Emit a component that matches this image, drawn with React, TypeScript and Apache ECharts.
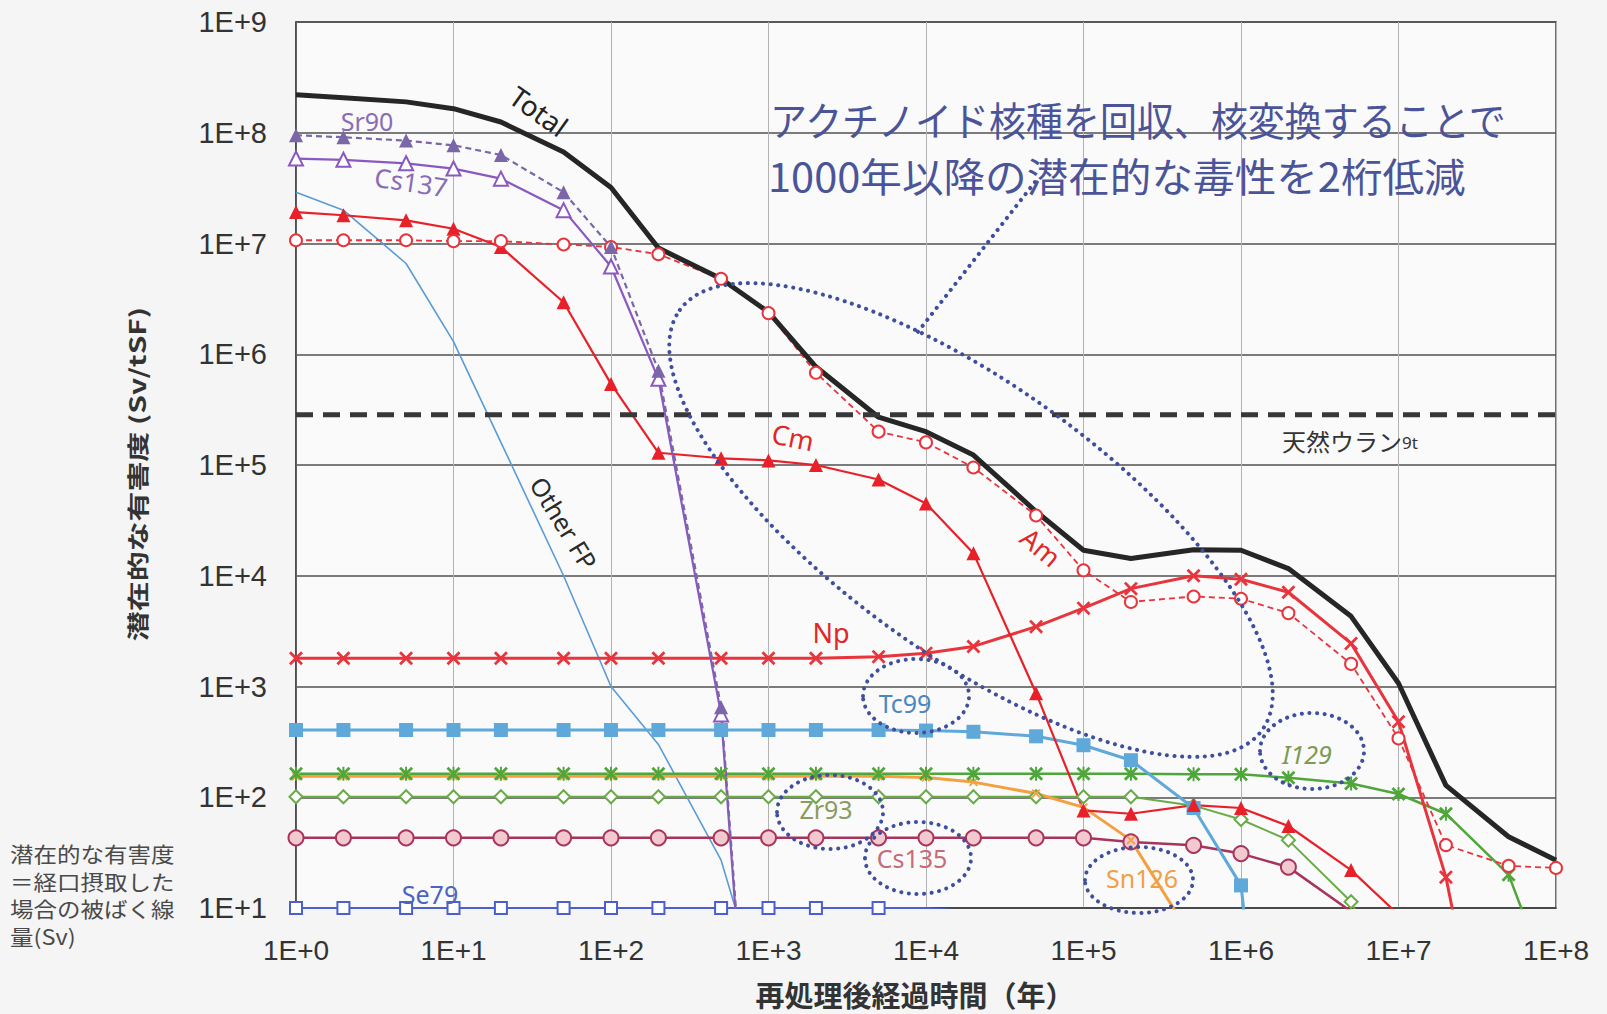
import { useEffect, useRef } from "react";
import * as echarts from "echarts";

// Years after reprocessing at which the toxicity of each nuclide is tabulated
const TIMES = [1, 2, 5, 10, 20, 50, 100, 200, 500, 1e3, 2e3, 5e3, 1e4, 2e4, 5e4, 1e5, 2e5, 5e5, 1e6, 2e6, 5e6, 1e7, 2e7, 5e7, 1e8];

const X_TICK_LABELS = ["1E+0", "1E+1", "1E+2", "1E+3", "1E+4", "1E+5", "1E+6", "1E+7", "1E+8"];
const Y_TICK_LABELS = ["1E+1", "1E+2", "1E+3", "1E+4", "1E+5", "1E+6", "1E+7", "1E+8", "1E+9"];

// Potential toxicity (Sv per tonne of spent fuel), one value per entry of TIMES
const TOTAL = [2.2e8, 2.07e8, 1.9e8, 1.65e8, 1.25e8, 6.7e7, 3.2e7, 9.1e6, 4.8e6, 2.4e6, 7.7e5, 2.7e5, 2.0e5, 1.23e5, 3.8e4, 1.7e4, 1.43e4, 1.72e4, 1.7e4, 1.16e4, 4.3e3, 1.07e3, 128, 44, 27];
const SR90 = [9.5e7, 9.1e7, 8.5e7, 7.7e7, 6.3e7, 2.9e7, 9.3e6, 7.1e5, 650, 1e-3];
const CS137 = [5.85e7, 5.7e7, 5.3e7, 4.75e7, 3.85e7, 2.0e7, 6.2e6, 6.0e5, 560, 8e-4];
const OTHER_FP = [2.9e7, 2.0e7, 6.6e6, 1.3e6, 1.6e5, 1.0e4, 1.0e3, 300, 27, 1.0];
const CM = [1.92e7, 1.8e7, 1.62e7, 1.36e7, 9.3e6, 2.95e6, 5.4e5, 1.29e5, 1.15e5, 1.1e5, 1.0e5, 7.4e4, 4.5e4, 1.6e4, 870, 76, 71, 85, 80, 55, 22, 8.7];
const AM = [1.07e7, 1.07e7, 1.07e7, 1.05e7, 1.05e7, 9.8e6, 9.3e6, 8.0e6, 4.8e6, 2.35e6, 6.8e5, 2.0e5, 1.6e5, 9.5e4, 3.5e4, 1.12e4, 5.8e3, 6.5e3, 6.2e3, 4.6e3, 1.6e3, 340, 37, 24, 23];
const NP = [1800, 1800, 1800, 1800, 1800, 1800, 1800, 1800, 1800, 1800, 1800, 1860, 2000, 2300, 3470, 5100, 7650, 10000, 9300, 7100, 2450, 480, 19, 0.03];
const TC99 = [405, 405, 405, 405, 405, 405, 405, 405, 405, 405, 405, 405, 400, 390, 355, 295, 216, 80, 16, 0.003];
const I129 = [163, 163, 163, 163, 163, 163, 163, 163, 163, 163, 163, 163, 163, 163, 163, 163, 163, 161, 161, 150, 133, 107, 71, 20, 1.5];
const SN126 = [155, 155, 155, 155, 155, 155, 155, 155, 155, 155, 155, 155, 151, 137, 108, 81, 41, 5.1, 0.02];
const ZR93 = [101, 101, 101, 101, 101, 101, 101, 101, 101, 101, 101, 101, 101, 101, 101, 101, 101, 84, 63, 41, 11.4, 1.5];
const CS135 = [43, 43, 43, 43, 43, 43, 43, 43, 43, 43, 43, 43, 43, 43, 43, 43, 39.5, 36.8, 31, 23.4, 9.3, 3];
const SE79 = [10, 10, 10, 10, 10, 10, 10, 10, 10, 10, 10, 10, 10, 9.3];
const SE79_MARKED = 12; // markers only up to 5000 years
// Toxicity of the natural uranium needed for one tonne of fuel (9 t)
const NATURAL_URANIUM = 2.85e5;

const NOTE_LINES = ["潜在的な有害度", "＝経口摂取した", "場合の被ばく線", "量(Sv)"];

const CROSS = "path://M0,1.4L1.4,0L5,3.6L8.6,0L10,1.4L6.4,5L10,8.6L8.6,10L5,6.4L1.4,10L0,8.6L3.6,5Z";
const STAR = "path://M0,1.4L1.4,0L5,3.6L8.6,0L10,1.4L6.4,5L10,8.6L8.6,10L5,6.4L1.4,10L0,8.6L3.6,5Z M4.3,0L5.7,0L5.7,10L4.3,10Z";

const DOT = "#3f4f9e";
const JP = "'Noto Sans CJK JP', 'Noto Sans', sans-serif";
const LATIN = "'Noto Sans', 'Open Sans', sans-serif";

const pts = (vals: number[]) => vals.map((v, i) => [TIMES[i], v]);

function lineSeries(name: string, data: any[], extra: any) {
  return {
    type: "line",
    name,
    data,
    silent: true,
    emphasis: { disabled: true },
    clip: true,
    ...extra,
  };
}

function dotted(shape: any) {
  return {
    silent: true,
    z: 100,
    style: { fill: "none", stroke: DOT, lineWidth: 4, lineDash: [0.1, 7.5], lineCap: "round" },
    ...shape,
  };
}

function label(text: string, x: number, y: number, color: string, size: number, rotation = 0, extraStyle: any = {}) {
  return {
    type: "text",
    x,
    y,
    rotation,
    z: 101,
    silent: true,
    style: { text, fill: color, fontSize: size, fontFamily: LATIN, align: "center", verticalAlign: "middle", ...extraStyle },
  };
}

export default function App() {
  const ref = useRef<HTMLDivElement>(null);

  useEffect(() => {
    if (!ref.current) return;
    const chart = echarts.init(ref.current, undefined, { renderer: "svg" });

    const series = [
      lineSeries("Other FP", pts(OTHER_FP), {
        symbol: "none",
        lineStyle: { color: "#5b9bd5", width: 1.6 },
      }),
      lineSeries(
        "Se79",
        SE79.map((v, i) => (i < SE79_MARKED ? [TIMES[i], v] : { value: [TIMES[i], v], symbol: "none" })),
        {
          symbol: "emptyRect",
          symbolSize: 12,
          itemStyle: { color: "#4a5fd0", borderColor: "#4a5fd0", borderWidth: 1.8 },
          lineStyle: { color: "#4a5fd0", width: 2 },
        }
      ),
      lineSeries("Cs135", pts(CS135), {
        symbol: "circle",
        symbolSize: 15,
        itemStyle: { color: "#f3c9d0", borderColor: "#a8345c", borderWidth: 2 },
        lineStyle: { color: "#a8345c", width: 2.5 },
      }),
      lineSeries("Zr93", pts(ZR93), {
        symbol: "emptyDiamond",
        symbolSize: 13,
        itemStyle: { color: "#6aab48", borderColor: "#6aab48", borderWidth: 1.8 },
        lineStyle: { color: "#6aab48", width: 2 },
      }),
      lineSeries("Sn126", pts(SN126), {
        symbol: CROSS,
        symbolSize: 9,
        itemStyle: { color: "#f5a040", borderWidth: 0 },
        lineStyle: { color: "#f5a040", width: 3 },
      }),
      lineSeries("I129", pts(I129), {
        symbol: STAR,
        symbolSize: 14,
        itemStyle: { color: "#4fa63a", borderWidth: 0 },
        lineStyle: { color: "#4fa63a", width: 2.5 },
      }),
      lineSeries("Tc99", pts(TC99), {
        symbol: "rect",
        symbolSize: 14,
        itemStyle: { color: "#5ea8da", borderWidth: 0 },
        lineStyle: { color: "#5ea8da", width: 3 },
      }),
      lineSeries("Np", pts(NP), {
        symbol: CROSS,
        symbolSize: 14,
        itemStyle: { color: "#e8343c", borderWidth: 0 },
        lineStyle: { color: "#e8343c", width: 3 },
      }),
      lineSeries("Cm", pts(CM), {
        symbol: "triangle",
        symbolSize: 14,
        itemStyle: { color: "#e8202a", borderWidth: 0 },
        lineStyle: { color: "#e8202a", width: 2.2 },
      }),
      lineSeries("Am", pts(AM), {
        symbol: "emptyCircle",
        symbolSize: 12,
        itemStyle: { color: "#e8343c", borderColor: "#e8343c", borderWidth: 1.8 },
        lineStyle: { color: "#e8343c", width: 1.8, type: [6, 4] },
      }),
      lineSeries("Cs137", pts(CS137), {
        symbol: "emptyTriangle",
        symbolSize: 14,
        itemStyle: { color: "#8a58c0", borderColor: "#8a58c0", borderWidth: 1.8 },
        lineStyle: { color: "#8a58c0", width: 2.2 },
      }),
      lineSeries("Sr90", pts(SR90), {
        symbol: "triangle",
        symbolSize: 14,
        itemStyle: { color: "#7a66a8", borderWidth: 0 },
        lineStyle: { color: "#7a66a8", width: 2.2, type: [6, 4] },
      }),
      lineSeries("Total", pts(TOTAL), {
        symbol: "none",
        lineStyle: { color: "#262626", width: 5 },
      }),
      lineSeries("天然ウラン9t", [[TIMES[0], NATURAL_URANIUM], [TIMES[TIMES.length - 1], NATURAL_URANIUM]], {
        symbol: "none",
        lineStyle: { color: "#383838", width: 5, type: [17, 10] },
      }),
    ];

    const graphic: any[] = [
      // dotted callouts
      dotted({ type: "ellipse", x: 971, y: 520, rotation: -0.625, shape: { cx: 0, cy: 0, rx: 359, ry: 135 } }),
      dotted({ type: "line", shape: { x1: 1035, y1: 182, x2: 917, y2: 333 } }),
      dotted({ type: "ellipse", shape: { cx: 916, cy: 696, rx: 53, ry: 37 } }),
      dotted({ type: "ellipse", shape: { cx: 830, cy: 812, rx: 53, ry: 37 } }),
      dotted({ type: "ellipse", shape: { cx: 918, cy: 858, rx: 53, ry: 36 } }),
      dotted({ type: "ellipse", shape: { cx: 1139, cy: 880, rx: 54, ry: 33 } }),
      dotted({ type: "ellipse", shape: { cx: 1312, cy: 751, rx: 52, ry: 38 } }),

      // series names
      label("Total", 539, 111, "#222", 28, -0.62),
      label("Sr90", 367, 121, "#8a6cb5", 25),
      label("Cs137", 411, 182, "#8a6cb5", 26, -0.15),
      label("Other FP", 564, 523, "#2a2a2a", 25, -1.02),
      label("Cm", 793, 437, "#e02828", 27, -0.2),
      label("Am", 1041, 547, "#e02828", 27, -0.7),
      label("Np", 831, 632, "#e02828", 27),
      label("Tc99", 905, 703, "#4b86c3", 25),
      label("Zr93", 826, 809, "#8a9a60", 25),
      label("Cs135", 912, 858, "#c86a78", 25),
      label("Sn126", 1142, 878, "#f0a048", 25),
      label("I129", 1307, 754, "#7f9a55", 25, 0, { fontStyle: "italic" }),
      label("Se79", 430, 894, "#4a64c0", 25),
      {
        type: "text",
        x: 1282,
        y: 438,
        z: 101,
        silent: true,
        style: {
          text: "{a|天然ウラン}{b|9t}",
          verticalAlign: "middle",
          rich: {
            a: { fontSize: 24, lineHeight: 28, fontFamily: JP, fill: "#333", verticalAlign: "bottom" },
            b: { fontSize: 17, lineHeight: 28, fontFamily: LATIN, fill: "#333", verticalAlign: "bottom", padding: [0, 0, 1, 0] },
          },
        },
      },

      // headline
      {
        type: "text",
        x: 770,
        y: 118,
        scaleX: 0.925,
        z: 101,
        silent: true,
        style: { text: "アクチノイド核種を回収、核変換することで", fill: "#4b5499", fontSize: 40, fontFamily: JP, verticalAlign: "middle" },
      },
      {
        type: "text",
        x: 768,
        y: 175,
        scaleX: 1.04,
        z: 101,
        silent: true,
        style: { text: "1000年以降の潜在的な毒性を2桁低減", fill: "#4b5499", fontSize: 40, fontFamily: JP, verticalAlign: "middle" },
      },

      // axis titles
      {
        type: "text",
        x: 137,
        y: 474,
        rotation: Math.PI / 2,
        scaleX: 1.36,
        z: 101,
        silent: true,
        style: { text: "潜在的な有害度 (Sv/tSF)", fill: "#333", fontSize: 22, fontWeight: "bold", fontFamily: JP, align: "center", verticalAlign: "middle" },
      },
      {
        type: "text",
        x: 915,
        y: 994,
        z: 101,
        silent: true,
        style: { text: "再処理後経過時間（年）", fill: "#333", fontSize: 29, lineHeight: 30, fontWeight: "bold", fontFamily: JP, align: "center", verticalAlign: "middle" },
      },
    ];

    // footnote explaining the unit, one text per line
    NOTE_LINES.forEach((line, i) => {
      graphic.push({
        type: "text",
        x: 10,
        y: 853 + i * 27.5,
        scaleX: 1.12,
        z: 101,
        silent: true,
        style: { text: line, fill: "#4a4a4a", fontSize: 21, lineHeight: 24, fontFamily: JP, verticalAlign: "middle" },
      });
    });

    const option = {
      animation: false,
      backgroundColor: "#f4f5f4",
      grid: {
        left: 296,
        right: 51,
        top: 22,
        bottom: 106,
        containLabel: false,
        outerBoundsMode: "none",
        show: true,
        backgroundColor: "#f9faf9",
        borderColor: "#444",
        borderWidth: 1.5,
      },
      xAxis: {
        type: "log",
        logBase: 10,
        min: TIMES[0],
        max: TIMES[TIMES.length - 1],
        splitNumber: 8,
        axisLine: { show: true, lineStyle: { color: "#444", width: 1.5 } },
        axisTick: { show: false },
        minorTick: { show: false },
        minorSplitLine: { show: false },
        axisLabel: {
          showMinLabel: true,
          showMaxLabel: true,
          hideOverlap: false,
          formatter: (v: number) => X_TICK_LABELS[Math.round(Math.log10(v))],
          fontSize: 28,
          color: "#333",
          fontFamily: "'Liberation Sans', Arial, sans-serif",
          margin: 28,
        },
        splitLine: { show: true, lineStyle: { color: "#b2b2b2", width: 1 } },
      },
      yAxis: {
        type: "log",
        logBase: 10,
        min: 10,
        max: 1e9,
        splitNumber: 8,
        axisLine: { show: true, lineStyle: { color: "#444", width: 1.5 } },
        axisTick: { show: false },
        minorTick: { show: false },
        minorSplitLine: { show: false },
        axisLabel: {
          showMinLabel: true,
          showMaxLabel: true,
          hideOverlap: false,
          formatter: (v: number) => Y_TICK_LABELS[Math.round(Math.log10(v)) - 1],
          fontSize: 29,
          color: "#333",
          fontFamily: "'Liberation Sans', Arial, sans-serif",
          margin: 29,
        },
        splitLine: { show: true, lineStyle: { color: "#505050", width: 1.5 } },
      },
      tooltip: { show: false },
      legend: { show: false },
      graphic,
      series,
    };

    chart.setOption(option as any);
    return () => chart.dispose();
  }, []);

  return (
    <div style={{ position: "fixed", left: 0, top: 0, width: 1607, height: 1014, overflow: "hidden" }}>
      <div ref={ref} style={{ width: 1607, height: 1014 }} />
    </div>
  );
}
